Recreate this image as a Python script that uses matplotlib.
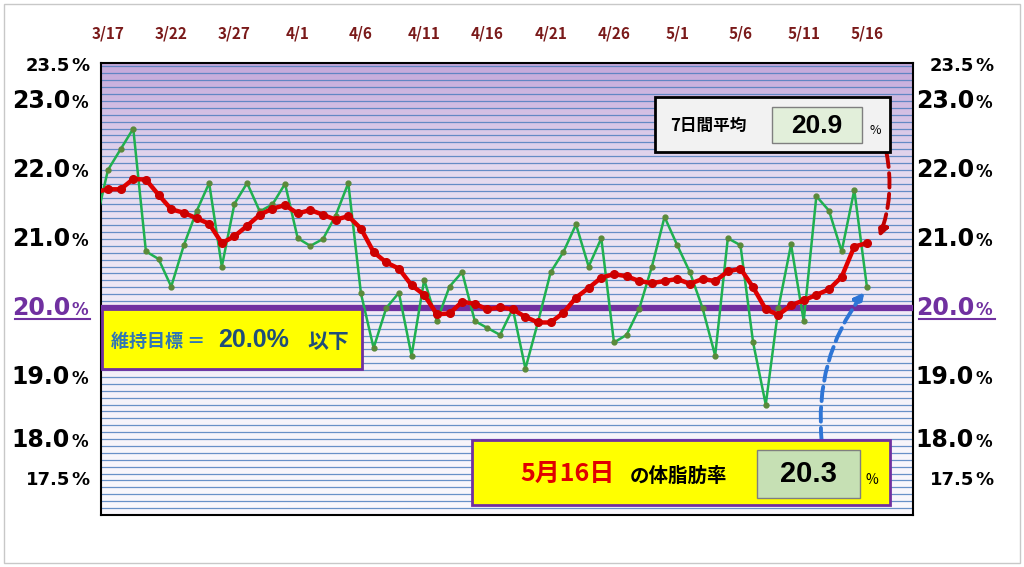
import numpy as np
import matplotlib
matplotlib.use("Agg")
import matplotlib.pyplot as plt
from matplotlib.colors import LinearSegmentedColormap
from matplotlib.patches import Rectangle
import datetime as dt

plt.rcParams['font.family'] = ['Noto Sans CJK JP', 'DejaVu Sans']

# data: index -1 = 3/16 (partially visible), 0 = 3/17 ... 60 = 5/16
daily = [21.2, 22.0, 22.3, 22.6, 20.82, 20.71, 20.31, 20.91, 21.4, 21.81, 20.6,
         21.51, 21.81, 21.4, 21.5, 21.8, 21.01, 20.9, 21.0, 21.34, 21.81,
         20.21, 19.42, 20.0, 20.22, 19.31, 20.41, 19.81, 20.31, 20.52, 19.81,
         19.71, 19.61, 19.99, 19.12, 19.8, 20.52, 20.81, 21.21, 20.6, 21.01,
         19.5, 19.61, 19.99, 20.6, 21.32, 20.91, 20.52, 20.0, 19.31, 21.01,
         20.91, 19.5, 18.6, 20.0, 20.92, 19.81, 21.62, 21.41, 20.82, 21.71, 20.3]
avg7 = [21.68, 21.72, 21.72, 21.87, 21.86, 21.64, 21.43, 21.38, 21.3, 21.22, 20.94,
        21.04, 21.19, 21.35, 21.44, 21.49, 21.37, 21.42, 21.35, 21.28, 21.33,
        21.15, 20.81, 20.66, 20.57, 20.33, 20.19, 19.91, 19.92, 20.09, 20.06,
        19.98, 20.01, 19.98, 19.87, 19.79, 19.79, 19.93, 20.15, 20.29, 20.44,
        20.49, 20.46, 20.39, 20.36, 20.39, 20.42, 20.35, 20.42, 20.39, 20.53,
        20.57, 20.3, 19.98, 19.9, 20.04, 20.11, 20.19, 20.27, 20.45, 20.89, 20.94]
start = dt.date(2020, 3, 16)
xi = np.arange(len(daily)) - 1
tick_idx = list(range(0, 61, 5))
tick_labels = [f"{(start + dt.timedelta(days=i+1)).month}/{(start + dt.timedelta(days=i+1)).day}" for i in tick_idx]
ytick_vals = [23.5, 23.0, 22.0, 21.0, 20.0, 19.0, 18.0, 17.5]
ytick_txt = ["23.5", "23.0", "22.0", "21.0", "20.0", "19.0", "18.0", "17.5"]
target = 20.0
latest = 20.3
latest_avg = 20.9

W, H = 1024, 567
fig = plt.figure(figsize=(W/100, H/100), dpi=100)
fig.patch.set_facecolor('white')
fig.add_artist(Rectangle((4/W, 4/H), 1-8/W, 1-8/H, transform=fig.transFigure,
                         fill=False, ec='#c8c8c8', lw=1))
ax = fig.add_axes([101/W, (H-515)/H, 812/W, 452/H])
YMIN, YMAX = 17.0, 23.55
XMIN, XMAX = -0.55, 63.64
ax.set_xlim(XMIN, XMAX)
ax.set_ylim(YMIN, YMAX)

cmap = LinearSegmentedColormap.from_list('bg', ['#f9f7fc', '#efe8f5', '#e4d8ee', '#c4a8da'])
g = np.linspace(0, 1, 256).reshape(-1, 1) ** 1.6
ax.imshow(g, extent=[XMIN, XMAX, YMIN, YMAX], origin='lower', aspect='auto',
          cmap=cmap, vmin=0, vmax=1, zorder=0)
for v in np.arange(17.0, 23.56, 0.1):
    ax.axhline(v, color='#4f7fbf', lw=0.9, alpha=0.85, zorder=1)

ax.axhline(target, color='#7030a0', lw=4.5, zorder=3)
ax.plot(xi, daily, color='#20b050', lw=1.8, zorder=4, marker='o', ms=3.5,
        mfc='#5a8a3a', mec='#5a8a3a')
ax.plot(xi, avg7, color='#e00000', lw=3.2, zorder=5, marker='o', ms=5.5,
        mfc='#cc0000', mec='#cc0000')

ax.set_xticks(tick_idx)
ax.set_xticklabels(tick_labels, color='#7a1a1a', fontweight='bold', fontsize=11)
ax.tick_params(axis='x', top=False, bottom=False, labeltop=True, labelbottom=False, pad=12)
ax.set_yticks([])
for s in ax.spines.values():
    s.set_color('black'); s.set_linewidth(1.5)

for v, t in zip(ytick_vals, ytick_txt):
    small = v in (23.5, 17.5)
    ypos = 18.09 if v == 18.0 else v
    col = '#7030a0' if v == 20.0 else 'black'
    fs = 13 if small else 17
    pfs = 13 if small else 12
    for xnum in (70, 974):
        ax.annotate(t, xy=(xnum, ypos), xycoords=('figure pixels', 'data'),
                    ha='right', va='center', fontsize=fs, fontweight='bold', color=col,
                    family=['DejaVu Sans'], annotation_clip=False)
        ax.annotate('%', xy=(xnum + 1, ypos - (0.0 if small else 0.03)),
                    xycoords=('figure pixels', 'data'),
                    ha='left', va='center', fontsize=pfs, fontweight='bold',
                    color=col, family=['DejaVu Sans'], annotation_clip=False)
for x0, x1 in ((15, 90), (919, 995)):
    fig.add_artist(plt.Line2D([x0/W, x1/W], [(H-319)/H]*2, color='#7030a0', lw=1.5))

def fbox(x0, y0, x1, y1, fc, ec, lw, z=10):
    fig.add_artist(Rectangle((x0/W, (H-y1)/H), (x1-x0)/W, (y1-y0)/H,
                             transform=fig.transFigure, fc=fc, ec=ec, lw=lw, zorder=z))
def ftext(x, y, s, **kw):
    fig.text(x/W, (H-y)/H, s, zorder=20, **kw)

# target box
fbox(102, 309, 362, 369, '#ffff00', '#7030a0', 2)
ftext(111, 341, '維持目標 ＝', fontsize=13, color='#2e75b6', va='center', fontweight='bold')
ftext(218, 340, '20.0%', fontsize=18, color='#1f4e79', va='center', fontweight='bold',
      family=['Liberation Sans'])
ftext(307, 341, '以下', fontsize=15, color='#1f4e79', va='center', fontweight='bold')

# avg box
fbox(655, 97, 890, 152, '#f2f2f2', 'black', 2)
fbox(772, 107, 862, 143, '#e2efda', '#7f7f7f', 1)
ftext(670, 126, '7日間平均', fontsize=12, color='black', va='center', fontweight='bold')
ftext(817, 126, f'{latest_avg:.1f}', fontsize=19, color='black', va='center', ha='center',
      fontweight='bold', family=['Liberation Sans'])
ftext(870, 130, '%', fontsize=9, color='black', va='center')

# latest box
fbox(472, 440, 890, 505, '#ffff00', '#7030a0', 2)
fbox(757, 450, 860, 498, '#c6e0b4', '#7f7f7f', 1)
ftext(520, 474, '5月16日', fontsize=18, color='#e00000', va='center', fontweight='bold')
ftext(630, 476, 'の体脂肪率', fontsize=14, color='black', va='center', fontweight='bold')
ftext(808, 474, f'{latest:.1f}', fontsize=21, color='black', va='center', ha='center',
      fontweight='bold', family=['Liberation Sans'])
ftext(866, 480, '%', fontsize=10, color='black', va='center')

# arrows
ax.annotate('', xy=(878/W, (H-240)/H), xytext=(886/W, (H-150)/H),
            xycoords='figure fraction', textcoords='figure fraction',
            arrowprops=dict(arrowstyle='-|>', color='#c00000', lw=2.8, ls='--',
                            connectionstyle='arc3,rad=-0.15', mutation_scale=14),
            annotation_clip=False, zorder=15)
ax.annotate('', xy=(866/W, (H-290)/H), xytext=(822/W, (H-445)/H),
            xycoords='figure fraction', textcoords='figure fraction',
            arrowprops=dict(arrowstyle='-|>', color='#2e75d6', lw=2.8, ls='--',
                            connectionstyle='arc3,rad=-0.2', mutation_scale=14),
            annotation_clip=False, zorder=15)

fig.savefig('out.png', dpi=100)
